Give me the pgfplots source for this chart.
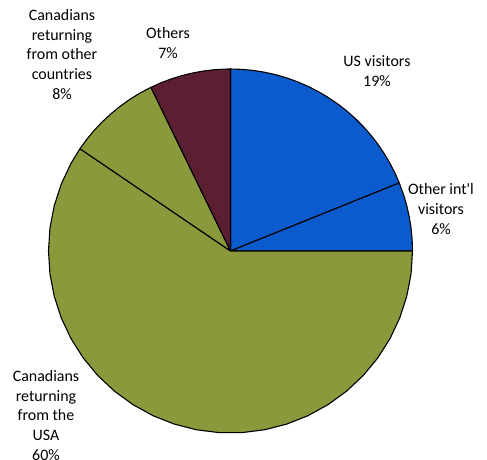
\documentclass[border=0pt]{standalone}
\usepackage{fontspec}
\setmainfont{Carlito}
\usepackage{pgfplots}
\pgfplotsset{compat=1.18}
\definecolor{cblue}{HTML}{0B5BCF}
\definecolor{colive}{HTML}{8A993B}
\definecolor{cmaroon}{HTML}{5C1E31}
\tikzset{lbl/.style={align=center, font=\fontsize{16}{19.7}\selectfont, text=black}}
\begin{document}
\begin{tikzpicture}
\begin{axis}[
  at={(0,0)}, anchor=south west,
  scale only axis, width=487bp, height=460bp,
  xmin=-230.5, xmax=256.5, ymin=-209, ymax=251,
  hide axis, clip=false,
  every axis plot/.append style={data cs=polar, draw=black, line width=1.1bp, line join=round, mark=none},
]
% US visitors 18.9%
\addplot[fill=cblue] coordinates {(90,0) (90,182) (86.4,182) (82.8,182) (79.2,182) (75.6,182) (72,182) (68.4,182) (64.8,182) (61.2,182) (57.6,182) (54,182) (50.4,182) (46.8,182) (43.2,182) (39.6,182) (36,182) (32.4,182) (28.8,182) (25.2,182) (21.96,182) (21.96,0)};
% Other int'l visitors 6.1%
\addplot[fill=cblue] coordinates {(21.96,0) (21.96,182) (18,182) (14.4,182) (10.8,182) (7.2,182) (3.6,182) (0,182) (0,0)};
% Canadians returning from the USA 59.5%
\addplot[fill=colive] coordinates {(0,0) (0,182) (-7.2,182) (-14.4,182) (-21.6,182) (-28.8,182) (-36,182) (-43.2,182) (-50.4,182) (-57.6,182) (-64.8,182) (-72,182) (-79.2,182) (-86.4,182) (-93.6,182) (-100.8,182) (-108,182) (-115.2,182) (-122.4,182) (-129.6,182) (-136.8,182) (-144,182) (-151.2,182) (-158.4,182) (-165.6,182) (-172.8,182) (-180,182) (-187.2,182) (-194.4,182) (-201.6,182) (-208.8,182) (-214.2,182) (-214.2,0)};
% Canadians returning from other countries 8.3%
\addplot[fill=colive] coordinates {(-214.2,0) (-214.2,182) (-217.8,182) (-221.4,182) (-225,182) (-228.6,182) (-232.2,182) (-235.8,182) (-239.4,182) (-243,182) (-244.08,182) (-244.08,0)};
% Others 7.2%
\addplot[fill=cmaroon] coordinates {(-244.08,0) (-244.08,182) (-247.5,182) (-251,182) (-254.5,182) (-258,182) (-261.5,182) (-265,182) (-268.5,182) (-270,182) (-270,0)};
\node[lbl] at (axis cs:-168.5,196.5) {Canadians\\returning\\from other\\countries\\8\%};
\node[lbl] at (axis cs:-62.5,208) {Others\\7\%};
\node[lbl] at (axis cs:146.5,180) {US visitors\\19\%};
\node[lbl] at (axis cs:210.5,42) {Other int\textquotesingle l\\visitors\\6\%};
\node[lbl] at (axis cs:-184.5,-164.5) {Canadians\\returning\\from the\\USA\\60\%};
\end{axis}
\pgfresetboundingbox
\useasboundingbox (0,0) rectangle (487bp,460bp);
\end{tikzpicture}
\end{document}
